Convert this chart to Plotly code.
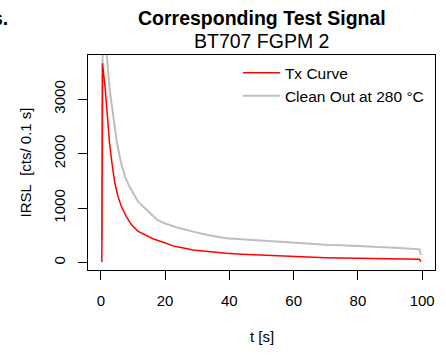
import plotly.graph_objects as go

# Tx curve (red)
t_tx = [0.3, 0.5, 1.35, 2.2, 2.7, 3.4, 4.3, 5.3, 6.4, 7.9, 9.5, 11.5, 14.7, 16.2, 18.9,
        23, 28.7, 34, 39, 44, 49.4, 55, 59.8, 65, 70, 75, 81, 87, 93, 99.2, 99.6]
tx_vals = [15, 3660, 3200, 2550, 2200, 1850, 1480, 1220, 1030, 850, 700, 580, 475, 440, 385,
           300, 233, 195, 172, 155, 141, 123, 110, 100, 93, 87, 80, 74, 68, 62, 20]

# Clean out at 280 °C (grey)
t_clean = [0.4, 0.6, 1.0, 1.4, 1.87, 2.7, 4.0, 5.0, 6.3, 7.5, 8.7, 11.6, 14.6, 17.7, 20,
           24, 28.7, 34, 39, 44, 49.4, 55, 60, 65, 70, 75, 81, 87, 93, 99.2, 99.6]
clean_vals = [420, 4900, 4450, 4100, 3800, 3200, 2600, 2200, 1830, 1580, 1420, 1120, 950, 780, 720,
              640, 570, 500, 450, 430, 415, 385, 360, 345, 330, 318, 306, 290, 270, 245, 140]

x_ticks = [0, 20, 40, 60, 80, 100]
y_ticks = [0, 1000, 2000, 3000]

FONT = "Liberation Sans, Arial, Helvetica, sans-serif"

fig = go.Figure()
fig.add_trace(go.Scatter(x=t_clean, y=clean_vals, mode="lines", name="Clean Out at 280 °C",
                         line=dict(color="#BEBEBE", width=2)))
fig.add_trace(go.Scatter(x=t_tx, y=tx_vals, mode="lines", name="Tx Curve",
                         line=dict(color="#FF0000", width=1.5)))

fig.update_layout(
    width=446, height=360,
    margin=dict(l=88, r=11, t=55, b=90, pad=0),
    paper_bgcolor="white", plot_bgcolor="white",
    font=dict(family=FONT, size=15, color="black"),
    showlegend=True,
    legend=dict(x=0.432, y=0.995, xanchor="left", yanchor="top", traceorder="reversed",
                bgcolor="rgba(0,0,0,0)", font=dict(size=15.5), tracegroupgap=0,
                itemwidth=37),
    xaxis=dict(range=[-4, 104], tickvals=x_ticks, ticktext=[str(v) for v in x_ticks],
               showgrid=False, zeroline=False, showline=True, mirror=True,
               linecolor="black", linewidth=1, ticks="outside", ticklen=9,
               tickcolor="black", ticklabelstandoff=8),
    yaxis=dict(range=[-134, 3811], tickvals=y_ticks, ticktext=[str(v) for v in y_ticks],
               showgrid=False, zeroline=False, showline=True, mirror=True,
               linecolor="black", linewidth=1, ticks="outside", ticklen=9,
               tickcolor="black", tickangle=-90, ticklabelstandoff=7),
    annotations=[
        dict(text="<b>Corresponding Test Signal</b>", xref="paper", yref="paper",
             x=0.5, y=(270 - 18) / 215, xanchor="center", yanchor="middle",
             showarrow=False, font=dict(size=19.5)),
        dict(text="BT707 FGPM 2", xref="paper", yref="paper",
             x=0.5, y=(270 - 41) / 215, xanchor="center", yanchor="middle",
             showarrow=False, font=dict(size=19.5)),
        dict(text="<b>s.</b>", xref="paper", yref="paper",
             x=(10 - 88) / 347, y=(270 - 18) / 215, xanchor="right", yanchor="middle",
             showarrow=False, font=dict(size=19.5)),
        dict(text="t [s]", xref="paper", yref="paper",
             x=0.5, y=(270 - 336) / 215, xanchor="center", yanchor="middle",
             showarrow=False, font=dict(size=15)),
        dict(text="IRSL\u00a0 [cts/ 0.1 s]", xref="paper", yref="paper",
             x=(25 - 88) / 347, y=0.5, xanchor="center", yanchor="middle", textangle=-90,
             showarrow=False, font=dict(size=15)),
    ],
)

fig.write_html("out.html", config={"displayModeBar": False},
               post_script="document.body.style.margin='0px';")
